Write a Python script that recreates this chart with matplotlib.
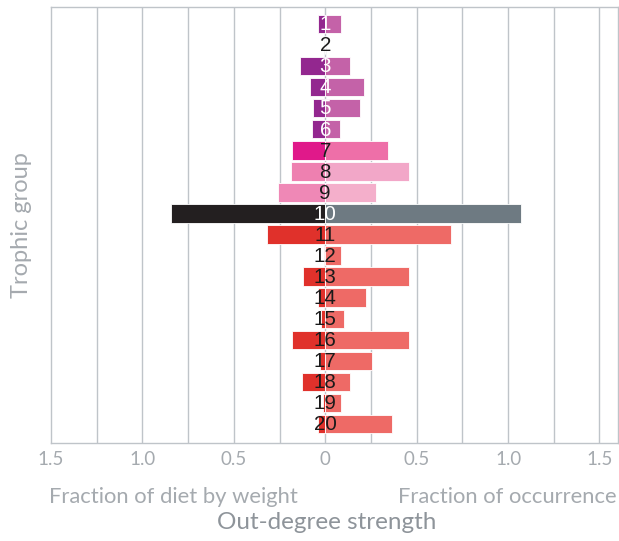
import matplotlib.pyplot as plt
import numpy as np

# Trophic groups 1..20
groups = list(range(1, 21))

# Out-degree strength: left = fraction of diet by weight, right = fraction of occurrence
diet_weight = [0.037, 0.0, 0.136, 0.084, 0.066, 0.073, 0.183, 0.19, 0.258, 0.845,
               0.319, 0.007, 0.119, 0.038, 0.022, 0.181, 0.031, 0.125, 0.013, 0.042]
occurrence = [0.088, 0.0, 0.134, 0.213, 0.192, 0.082, 0.342, 0.46, 0.276, 1.07,
              0.687, 0.088, 0.46, 0.225, 0.1, 0.46, 0.254, 0.134, 0.088, 0.366]

tick_vals = [-1.5, -1.0, -0.5, 0, 0.5, 1.0, 1.5]
tick_text = ["1.5", "1.0", "0.5", "0", "0.5", "1.0", "1.5"]

# colours per group (left, right)
left_cols = ["#93278f"] * 6 + ["#e0198a", "#ee80b0", "#ef88b6", "#231f20"] + ["#e0312b"] * 10
right_cols = ["#c462a8"] * 6 + ["#ee6fa8", "#f2a7c8", "#f4afcb", "#6e7a82"] + ["#ee6a66"] * 10
white_labels = [1, 3, 4, 5, 6, 10]

grey = "#a5aaaf"
grid_col = "#bfc4c9"

plt.rcParams['font.family'] = ['Lato', 'DejaVu Sans']

fig = plt.figure(figsize=(6.19, 5.41), dpi=100)
ax = fig.add_axes([0.0824, 0.181, 0.9156, 0.806])

y = np.array(groups)
ax.barh(y, [-v for v in diet_weight], height=0.88, color=left_cols,
        edgecolor="white", linewidth=0.6, zorder=2)
ax.barh(y, occurrence, height=0.88, color=right_cols,
        edgecolor="white", linewidth=0.6, zorder=3)

for g in groups:
    c = "white" if g in white_labels else "#1a1a1a"
    ax.text(0, g + 0.04, str(g), ha="center", va="center", fontsize=14.8,
            color=c, family="Liberation Sans", zorder=4)

ax.set_xlim(-1.5, 1.6)
ax.set_ylim(20.9, 0.2)

for xv in np.arange(-1.25, 1.51, 0.25):
    ax.axvline(xv, color=grid_col, linewidth=1.0, zorder=1)

ax.set_xticks(tick_vals)
ax.set_xticklabels(tick_text)
ax.tick_params(axis="x", length=0, labelsize=13.5, labelcolor=grey, pad=6)
ax.set_yticks([])
for s in ax.spines.values():
    s.set_color(grid_col)
    s.set_linewidth(1.0)

ax.set_ylabel("Trophic group", fontsize=17, color=grey, labelpad=14)

fig.text(49 / 619, 0.082, "Fraction of diet by weight", ha="left", va="center",
         fontsize=15.8, color=grey)
fig.text(617 / 619, 0.082, "Fraction of occurrence", ha="right", va="center",
         fontsize=15.8, color=grey)
fig.text(0.527, 0.035, "Out-degree strength", ha="center", va="center",
         fontsize=17.5, color="#8e949a")

fig.savefig("out.png", dpi=100)
